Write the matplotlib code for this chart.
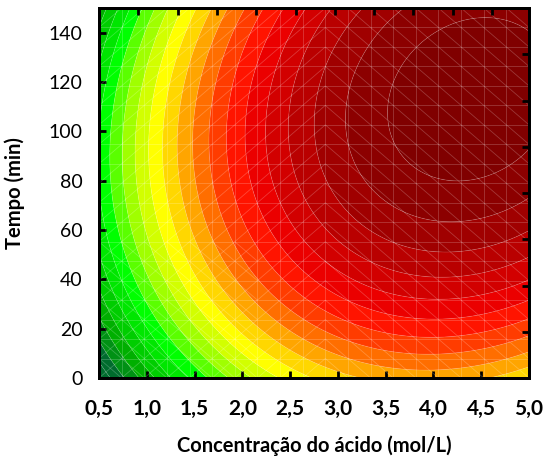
import numpy as np
import matplotlib
matplotlib.use("Agg")
import matplotlib.pyplot as plt
from matplotlib.colors import ListedColormap, BoundaryNorm
from matplotlib.collections import LineCollection

# Fitted quadratic response surface (response in contour-level units)
conc_range = [0.5, 5.0]          # acid concentration, mol/L
time_range = [0.0, 150.0]        # time, min
conc_opt = 4.4                   # stationary point, concentration
time_opt = 113.0                 # stationary point, time
z_max = 20.8                     # response at stationary point
coef_cc = 1.06                   # quadratic coefficient, concentration
coef_tt = 7.5e-4                 # quadratic coefficient, time
coef_ct = -0.0092                # interaction coefficient

x_ticks = [0.5, 1.0, 1.5, 2.0, 2.5, 3.0, 3.5, 4.0, 4.5, 5.0]
x_tick_labels = ["0,5", "1,0", "1,5", "2,0", "2,5", "3,0", "3,5", "4,0", "4,5", "5,0"]
y_ticks = [0, 20, 40, 60, 80, 100, 120, 140]
y_tick_labels = ["0", "20", "40", "60", "80", "100", "120", "140"]

band_colors = [
    "#006b2d", "#009114", "#00af00", "#00cd00", "#00e600", "#00ff00",
    "#5aff00", "#a0ff00", "#d2ff00", "#ffff00", "#ffd700", "#ffa500",
    "#ff6e00", "#ff3c00", "#ff1400", "#eb0000", "#d20000", "#b90000",
    "#a00000", "#8c0000", "#800000", "#7a0000",
]

def response(c, t):
    dc = c - conc_opt
    dt = t - time_opt
    return z_max - (coef_cc * dc**2 + coef_tt * dt**2 + coef_ct * dc * dt)

FONT = "Lato"
plt.rcParams["font.family"] = [FONT, "DejaVu Sans"]

fig = plt.figure(figsize=(5.47, 4.63), dpi=100)
ax = fig.add_axes([99 / 547, 1 - 378 / 463, 430 / 547, 370 / 463])

# smooth filled bands
cf = np.linspace(*conc_range, 400)
tf = np.linspace(*time_range, 400)
C, T = np.meshgrid(cf, tf)
Z = response(C, T)
levels = np.arange(-3, 24)
idx = np.clip(levels[:-1], 0, len(band_colors) - 1)
cmap = ListedColormap([band_colors[i] for i in idx])
norm = BoundaryNorm(levels, cmap.N)
ax.contourf(C, T, Z, levels=levels, cmap=cmap, norm=norm, antialiased=True)
ax.contour(C, T, Z, levels=np.arange(0, 22), colors="white", linewidths=0.6, alpha=0.16)

# coarse mesh overlay
n = 20
gx = np.linspace(*conc_range, n)
gy = np.linspace(*time_range, n)
segs = []
for x in gx:
    segs.append([(x, gy[0]), (x, gy[-1])])
for y in gy:
    segs.append([(gx[0], y), (gx[-1], y)])
for i in range(n - 1):
    for j in range(n - 1):
        x0, x1 = gx[i], gx[i + 1]
        y0, y1 = gy[j], gy[j + 1]
        if i < 10:
            segs.append([(x0, y0), (x1, y1)])
        if i >= 10 or (i < 7 and j < 7):
            segs.append([(x0, y1), (x1, y0)])
ax.add_collection(LineCollection(segs, colors="white", linewidths=0.6, alpha=0.22))

ax.set_xlim(*conc_range)
ax.set_ylim(*time_range)

ax.set_xticks(x_ticks)
ax.set_xticklabels(x_tick_labels, fontsize=15, fontweight="bold")
ax.set_yticks(y_ticks)
ax.set_yticklabels(y_tick_labels, fontsize=14)
ax.tick_params(direction="in", length=5, width=2, colors="black")
ax.tick_params(axis="x", pad=15)
ax.tick_params(axis="y", pad=12)

for sp in ax.spines.values():
    sp.set_linewidth(2)
    sp.set_color("black")
    sp.set_zorder(5)

# secondary frame ticks
axt = ax.twiny()
axt.set_xlim(0, 430 / 39.3)
axt.set_xticks(np.arange(1, 11))
axt.tick_params(axis="x", direction="in", length=5, width=2, labeltop=False)
axr = ax.twinx()
axr.set_ylim(0, 8)
axr.set_yticks(np.arange(1, 8))
axr.tick_params(axis="y", direction="in", length=5, width=2, labelright=False)
for a in (axt, axr):
    for sp in a.spines.values():
        sp.set_linewidth(2)

ax.set_xlabel("Concentração do ácido (mol/L)", fontsize=14.5, fontweight="bold", labelpad=12)
ax.set_ylabel("Tempo (min)", fontsize=14.5, fontweight="bold", labelpad=17)

fig.savefig("out.png", dpi=100)
